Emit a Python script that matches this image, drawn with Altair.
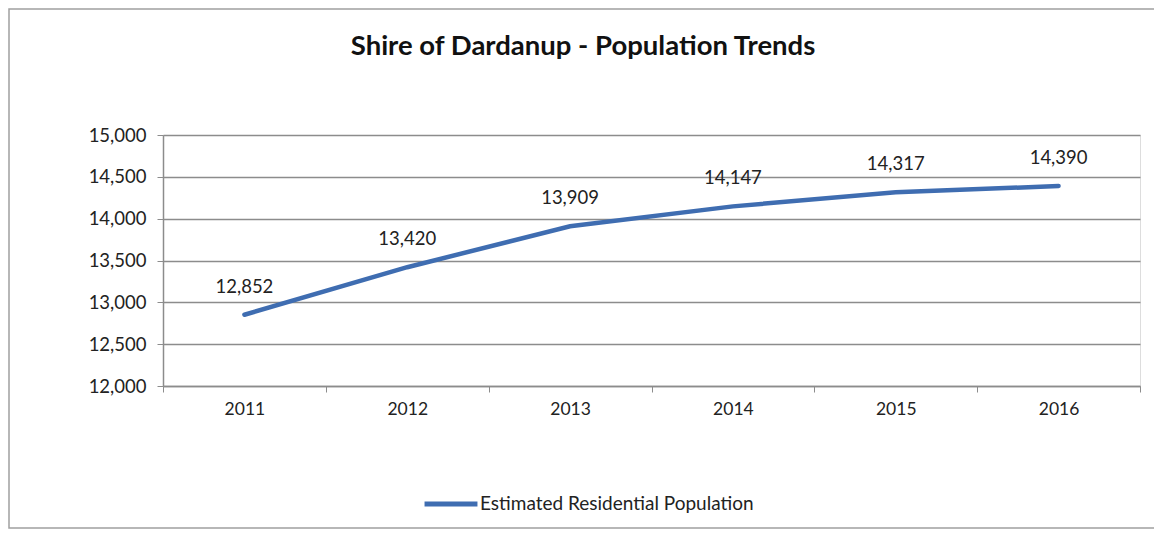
import altair as alt
import pandas as pd

years = ["2011", "2012", "2013", "2014", "2015", "2016"]
population = [12852, 13420, 13909, 14147, 14317, 14390]
series_name = "Estimated Residential Population"
title_text = "Shire of Dardanup - Population Trends"

df = pd.DataFrame({"Year": years, "Population": population, "Series": [series_name] * len(years)})
df["Label"] = df["Population"].map(lambda v: f"{v:,}")
one = pd.DataFrame({"t": [title_text]})

FONT = "Lato"
LINE_COLOR = "#3F6DB1"
GRID = "#8c8c8c"
TXT = "#222222"

W, H = 977, 251

x_enc = alt.X("Year:N", sort=years,
              scale=alt.Scale(paddingInner=0, paddingOuter=0),
              axis=alt.Axis(title=None, labelAngle=0, labelFont=FONT, labelFontSize=17.5,
                            labelColor=TXT, labelPadding=8, tickBand="extent",
                            ticks=True, tickSize=6, tickColor=GRID, domainColor=GRID,
                            domainWidth=1.5, grid=False))
y_enc = alt.Y("Population:Q",
              scale=alt.Scale(domain=[12000, 15000], nice=False, zero=False),
              axis=alt.Axis(title=None, values=[12000, 12500, 13000, 13500, 14000, 14500, 15000],
                            format=",d", labelFont=FONT, labelFontSize=18.5, labelColor=TXT,
                            labelPadding=11, tickSize=6, tickColor=GRID, domainColor=GRID,
                            domainWidth=1.5, grid=True, gridColor=GRID, gridWidth=1.5))

border = alt.Chart(one).mark_rect(fill="transparent", stroke="#a0a0a0", strokeWidth=1.5).encode(
    x=alt.value(-154), x2=alt.value(1003), y=alt.value(-126), y2=alt.value(393))

title = alt.Chart(one).mark_text(font=FONT, fontSize=27.5, fontWeight="bold", color="#111111",
                                 align="center", baseline="middle").encode(
    x=alt.value(420), y=alt.value(-88), text="t:N")

line = alt.Chart(df).mark_line(strokeWidth=4.5, strokeCap="round").encode(
    x=x_enc, y=y_enc,
    color=alt.Color("Series:N", scale=alt.Scale(range=[LINE_COLOR]),
                    legend=alt.Legend(title=None, orient="none", legendX=259, legendY=340,
                                      symbolType="stroke", symbolStrokeWidth=5, symbolSize=2800,
                                      labelFont=FONT, labelFontSize=19, labelColor=TXT,
                                      labelOffset=0, labelLimit=0))
)

labels = alt.Chart(df).mark_text(font=FONT, fontSize=18.5, color=TXT, dy=-28,
                                 baseline="middle").encode(
    x=alt.X("Year:N", sort=years), y="Population:Q", text="Label:N")

chart = alt.layer(border, title, line, labels).properties(
    width=W, height=H,
    padding={"left": 155, "top": 127, "right": 14, "bottom": 144},
    autosize=alt.AutoSizeParams(type="none"),
).configure_view(stroke=None).configure(background="white")

chart.save("out.html", embed_options={"renderer": "svg", "actions": False})
